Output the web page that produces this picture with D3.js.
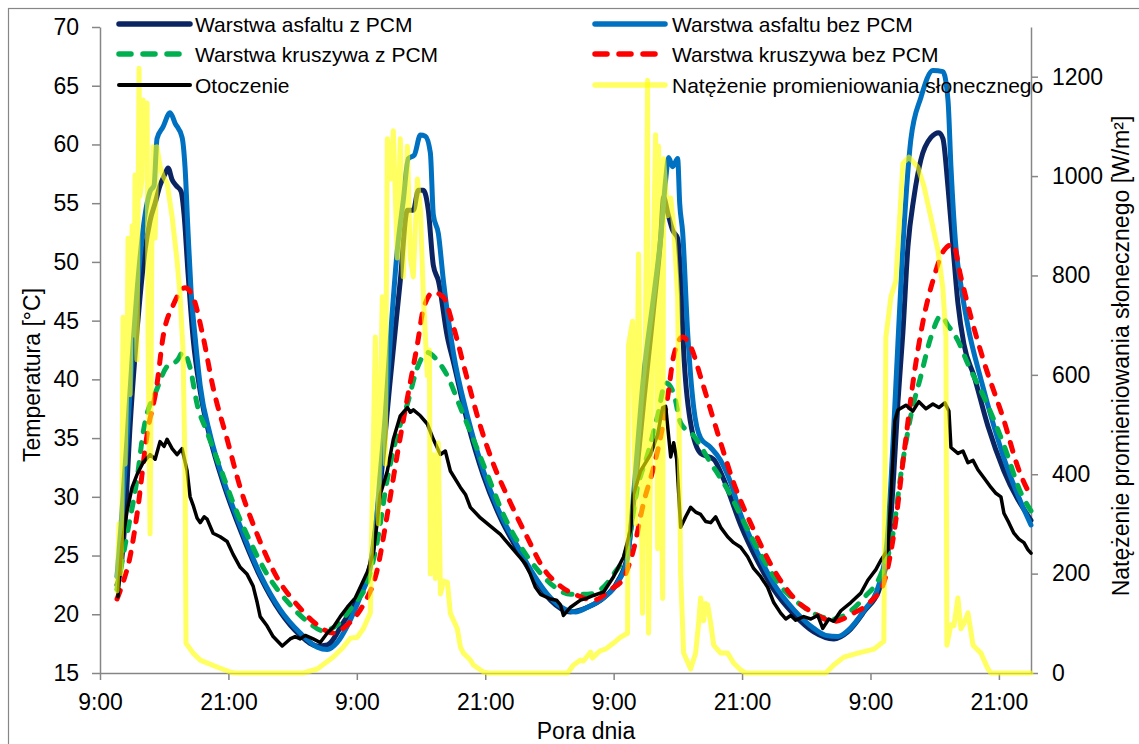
<!DOCTYPE html>
<html><head><meta charset="utf-8">
<script src="https://cdn.jsdelivr.net/npm/d3@7"></script>
<style>
html,body{margin:0;padding:0;background:#fff;}
text{font-family:"Liberation Sans",Arial,sans-serif;fill:#000;}
</style></head>
<body>
<svg id="chart" width="1139" height="744"></svg>
<script>
// ---- DATA (hour counted from midnight of day 1, value) ----
const seriesNames = ["Warstwa asfaltu z PCM","Warstwa asfaltu bez PCM","Warstwa kruszywa z PCM","Warstwa kruszywa bez PCM","Otoczenie","Natężenie promieniowania słonecznego"];
const xTickHours = [9,21,33,45,57,69,81,93];
const xTickLabels = ["9:00","21:00","9:00","21:00","9:00","21:00","9:00","21:00"];
const leftTicks = [15,20,25,30,35,40,45,50,55,60,65,70];
const rightTicks = [0,200,400,600,800,1000,1200];

const asfaltZ = [[10.59,22.5],[10.87,23.5],[11.34,28],[11.81,36],[12.27,42],[12.74,47],[13.21,51],[13.68,53.5],[14.15,55],[14.61,56.5],[15.08,57.5],[15.36,58],[15.74,57],[16.11,56.5],[16.58,56],[16.86,54],[17.23,49],[17.70,43.5],[18.36,39],[19.29,35],[20.51,31.2],[22.10,27.2],[23.97,23.2],[25.84,20.2],[27.71,18.2],[29.30,17.3],[30.24,17.4],[31.73,19.3],[33.32,21.8],[34.26,24.2],[35.19,31],[36.13,40],[37.06,48.4],[37.72,54.4],[38.28,54.4],[38.75,56.1],[39.22,56.1],[39.68,54.4],[40.15,49.7],[40.62,48.4],[41.46,43.6],[42.02,41.5],[43.33,36.4],[44.83,31.8],[46.42,28.2],[48.01,25.5],[49.51,23.2],[51.10,21.2],[52.97,20.2],[54.56,20.6],[56.06,21.4],[57.37,22.8],[58.30,25],[58.86,29.5],[59.80,38],[60.73,46],[61.39,52],[61.67,55.5],[62.05,54.2],[62.51,52.7],[62.98,52],[63.26,48.7],[63.54,42.5],[64.19,36.3],[65.13,33.7],[66.34,33.2],[67.28,31.5],[68.87,27.6],[70.46,24.5],[71.96,22.1],[73.83,20],[75.70,18.5],[77.57,17.9],[78.88,18.5],[80.38,20.2],[81.97,22.5],[82.72,26],[83.18,32],[83.56,38],[84.03,44],[84.50,51.3],[85.06,55.5],[85.71,58.7],[86.65,60.6],[87.39,61],[87.77,60.5],[88.24,56.4],[88.71,51.3],[89.17,46.5],[89.73,43],[90.67,40.3],[91.98,36],[93.47,32.2],[96.0,28]];

const asfaltBez = [[10.59,23.2],[10.96,27.5],[11.53,35],[12.09,43],[12.65,49.5],[13.21,54],[13.68,56],[14.05,56.5],[14.33,60.5],[14.89,61.5],[15.55,62.7],[16.02,61.8],[16.67,60.6],[16.95,58],[17.23,52.5],[17.51,47.5],[17.89,43.6],[18.36,39.5],[19.29,35.3],[20.51,31.5],[22.10,27.5],[23.97,23.4],[25.84,20.4],[27.71,18.4],[29.30,17.2],[30.24,17.0],[31.17,17.6],[32.11,19],[33.32,21.5],[34.26,24],[34.73,27],[35.19,32],[35.66,37],[36.13,43.4],[36.78,51],[37.35,55.3],[37.81,58.8],[38.37,59.1],[38.94,60.8],[39.40,60.7],[39.87,59.3],[40.15,54],[40.62,52.4],[41.09,48.4],[42.02,42.3],[43.33,36.9],[44.83,32.2],[46.42,28.5],[48.01,25.8],[49.51,23.4],[51.10,21.4],[52.50,20.4],[53.44,20.2],[54.56,20.6],[56.06,21.4],[57.37,22.7],[58.30,24.8],[58.86,30.2],[59.80,40.3],[60.73,47],[61.39,52],[61.86,57],[62.14,58.9],[62.51,58.1],[62.98,58.8],[63.17,55],[63.45,52.5],[63.92,43.9],[64.48,37.6],[65.13,35],[66.06,34.2],[67.00,33.1],[67.94,31.2],[68.87,28.5],[70.46,25.2],[71.96,22.6],[73.83,20.4],[75.70,18.8],[76.82,18.2],[77.95,18.1],[78.88,18.6],[80.38,20.3],[81.78,22.5],[82.53,26],[82.90,31],[83.18,36],[83.56,43],[84.03,51.3],[84.77,60.4],[85.71,64],[86.83,66.3],[87.77,66.2],[88.24,63.8],[88.52,58.1],[88.98,51.3],[89.45,48],[90.11,44.5],[91.32,40],[92.54,36],[93.85,32.3],[95.07,29.5],[96.0,27.6]];

const kruszywoZ = [[10.59,22.1],[11.53,26.8],[12.46,31.5],[13.02,35.4],[14.33,39.2],[15.27,41.1],[16.20,41.6],[16.76,42.3],[17.42,41],[18.07,37.9],[19.01,35.5],[20.23,32.5],[21.44,29.5],[23.03,26.2],[24.62,23.4],[26.49,21.1],[28.36,19.4],[29.86,18.6],[31.17,19.1],[32.67,20.8],[33.98,22.7],[34.91,26.2],[35.85,31.5],[36.78,35.3],[37.72,37.9],[38.66,41],[39.59,42.3],[40.53,41.6],[41.46,40.3],[42.68,37.6],[43.89,34.9],[45.20,31.9],[46.70,28.5],[48.29,25.8],[49.88,23.8],[51.38,22.4],[52.97,21.7],[54.56,21.7],[55.78,22.1],[56.99,23.4],[58.30,25.8],[59.24,30.8],[60.17,33.6],[61.11,36.9],[61.86,39.7],[62.61,38.8],[63.26,36.3],[64.48,35.2],[66.06,32.9],[67.65,30.6],[69.15,27.9],[70.74,25.1],[72.61,22.4],[74.48,20.8],[76.35,19.8],[77.57,19.6],[78.88,20.1],[80.38,21.4],[81.97,23.4],[83.09,26.8],[83.84,31.9],[84.77,36.9],[85.71,40.3],[86.65,43.6],[87.58,45.4],[88.24,44.6],[89.17,43.3],[90.11,41.3],[91.60,38.5],[93.47,34.4],[95.07,30.3],[96.0,28.8]];

const kruszywoBez = [[10.59,21.3],[11.15,22.7],[11.81,24.9],[12.46,28.5],[13.40,35.3],[14.33,39.6],[14.89,43.6],[15.83,46.3],[16.95,47.8],[17.70,47],[18.64,43.6],[19.57,39.3],[20.88,34.9],[22.10,30.8],[23.69,26.8],[25.56,23.1],[27.43,20.8],[29.30,19.1],[30.80,18.4],[32.11,19.1],[33.60,20.8],[34.91,23.8],[35.85,28.5],[36.78,33.6],[37.72,38.4],[38.66,43],[39.22,46],[40.15,47.4],[41.09,47],[42.02,44.5],[43.33,40],[44.55,36],[45.76,32.8],[47.35,29.5],[48.95,26.5],[50.44,23.9],[52.03,22.4],[53.62,21.6],[55.12,21.2],[56.71,22.1],[57.93,23.1],[58.86,25.5],[59.80,29.5],[60.73,32.5],[61.39,35.1],[62.05,38.5],[62.61,42],[63.45,43.6],[64.19,42.8],[65.13,40.2],[66.06,37.4],[67.00,34.6],[68.21,31.2],[70.08,27.2],[71.96,23.8],[73.83,21.4],[75.70,20.1],[77.57,19.4],[79.44,20.1],[81.03,21.1],[82.25,22.7],[83.18,26.8],[84.12,33.6],[85.06,40.3],[85.99,45.3],[86.93,48.7],[87.87,51],[88.71,51.5],[89.45,48.7],[90.39,45.3],[91.60,41.5],[93.47,36.5],[94.78,32.5],[96.0,30]];

const otoczenie = [[10.68,21.5],[11.06,26],[11.53,28.8],[12.00,30.8],[12.46,31.9],[13.02,32.9],[13.68,33.6],[14.15,33.2],[14.61,34.7],[14.99,34.3],[15.27,34.9],[15.74,34.1],[16.20,33.6],[16.67,34.1],[17.14,32.2],[17.42,30],[17.70,29.3],[18.07,28.2],[18.36,27.8],[18.74,28.3],[19.01,28.1],[19.57,26.9],[20.23,26.6],[20.88,26.2],[21.44,25.1],[22.10,24],[22.75,23.4],[23.31,22.4],[23.69,21],[23.97,19.8],[24.62,19],[25.18,18.1],[26.03,17.3],[26.77,17.9],[27.24,18.1],[27.71,17.9],[28.18,18.2],[28.92,17.9],[29.58,17.6],[30.24,18.4],[30.80,18.9],[31.45,19.8],[32.11,20.6],[32.86,21.4],[33.32,22.3],[33.98,23.6],[34.54,25.2],[34.91,28],[35.19,30.2],[35.85,32.2],[36.41,34.9],[37.06,36.9],[37.72,37.6],[38.00,37.2],[38.28,37.4],[38.94,36.9],[39.59,36.2],[40.15,34.9],[40.81,33.6],[41.27,33.9],[41.74,32.2],[42.68,30.8],[43.15,30.2],[43.61,29.1],[44.55,28.2],[45.48,27.5],[46.42,26.8],[46.89,26.3],[47.35,25.8],[48.29,24.8],[48.76,24.3],[49.22,23.4],[49.69,22.3],[50.16,21.7],[51.10,21.3],[51.66,21.2],[52.03,20.8],[52.31,19.9],[52.97,20.6],[53.90,21.2],[54.56,21.4],[55.12,21.6],[56.06,21.9],[56.99,23.2],[57.93,24.9],[58.58,27.2],[58.86,30.2],[59.51,32.2],[60.45,33.6],[61.11,35.3],[61.58,37.6],[61.86,37.7],[62.33,33.4],[62.61,34.6],[62.89,33.2],[63.26,27.4],[63.73,28.3],[64.19,29.1],[64.66,28.7],[65.13,28.5],[65.60,27.9],[66.07,27.8],[66.53,28.3],[67.00,27.4],[67.65,26.6],[68.21,26.1],[68.87,25.7],[69.52,24.9],[70.08,23.9],[70.74,23.2],[71.39,22.3],[71.96,21],[72.61,20.1],[73.08,19.6],[73.55,19.9],[74.01,19.5],[74.76,19.8],[75.42,19.6],[76.07,19.9],[76.54,18.8],[77.10,19.6],[77.57,19.4],[78.23,20.3],[79.16,21],[80.10,21.8],[80.75,22.9],[81.50,23.8],[81.97,24.6],[82.63,25.5],[82.91,30],[83.28,36.5],[83.56,37.4],[84.31,37.8],[84.96,37.3],[85.52,38.1],[86.18,37.5],[86.83,37.9],[87.39,37.6],[87.95,38.0],[88.33,37.3],[88.52,34.2],[89.17,33.7],[89.64,33.9],[90.11,32.9],[90.58,33.1],[91.04,32.3],[91.70,31.5],[92.26,30.8],[92.72,30.3],[93.19,30],[93.47,28.6],[93.93,27.8],[94.40,26.9],[94.87,26.4],[95.34,26.1],[95.71,25.5],[96.0,25.2]];

const promieniowanie = [[10.59,165],[10.78,300],[10.96,200],[11.06,358],[11.15,716],[11.34,420],[11.53,620],[11.62,875],[11.81,560],[12.00,900],[12.18,680],[12.27,1002],[12.46,630],[12.65,1217],[12.74,960],[12.93,994],[13.02,1153],[13.21,1050],[13.40,1147],[13.49,676],[13.68,280],[13.86,916],[13.96,1059],[14.15,875],[14.33,1059],[14.61,1020],[14.89,1000],[15.27,986],[15.74,918],[16.20,830],[16.48,760],[16.76,650],[16.95,400],[17.04,60],[17.70,40],[18.36,26],[19.94,12],[21.16,2],[21.63,0],[27.99,0],[29.30,8],[30.80,32],[31.73,52],[32.39,70],[33.04,72],[33.60,89],[34.26,121],[34.45,358],[34.73,676],[35.01,300],[35.38,757],[35.66,420],[35.85,1075],[36.13,994],[36.41,1091],[36.78,835],[37.06,1075],[37.34,797],[37.72,1060],[38.00,835],[38.28,797],[38.66,994],[38.94,932],[39.22,757],[39.59,598],[39.78,650],[39.87,199],[40.15,439],[40.34,190],[40.62,463],[40.81,159],[41.09,185],[41.46,183],[41.74,120],[42.39,89],[42.68,52],[42.96,40],[43.61,26],[43.89,16],[44.84,2],[45.30,0],[52.69,0],[53.25,16],[53.90,26],[54.18,24],[54.84,42],[55.03,30],[55.49,40],[55.77,45],[56.24,48],[56.71,56],[56.99,60],[57.64,72],[58.30,80],[58.39,660],[58.77,708],[59.05,300],[59.33,843],[59.70,120],[59.98,700],[60.17,1193],[60.26,80],[60.64,760],[60.92,1083],[61.11,250],[61.20,1060],[61.39,500],[61.58,150],[61.67,1035],[62.05,920],[62.33,956],[62.61,900],[62.98,757],[63.26,199],[63.54,40],[64.19,8],[64.66,40],[64.94,100],[65.13,151],[65.41,105],[65.59,140],[65.79,137],[66.07,100],[66.35,56],[67.00,40],[67.65,40],[68.21,20],[68.87,6],[69.34,0],[76.82,0],[77.57,16],[78.51,32],[79.82,40],[81.32,48],[82.25,64],[82.44,676],[82.91,757],[83.37,789],[83.84,956],[84.03,1026],[84.59,1038],[85.43,1018],[85.99,980],[86.65,916],[87.30,851],[87.77,773],[88.05,676],[88.14,56],[88.52,97],[88.80,95],[89.17,151],[89.45,89],[89.73,100],[90.11,121],[90.58,56],[91.32,40],[91.98,8],[92.26,0],[96.0,0]];

// ---- CHART ----
const svg = d3.select("#chart");
const W = 1139, H = 744;
const L = 100, R = 1031, T = 27, B = 673;
const axisColor = "#868686";

svg.append("rect").attr("x",0).attr("y",0).attr("width",W).attr("height",H).attr("fill","#fff");
svg.append("rect").attr("x",8.5).attr("y",8.5).attr("width",1300).attr("height",900)
  .attr("fill","none").attr("stroke",axisColor).attr("stroke-width",1.2);

const x = d3.scaleLinear().domain([9,96]).range([L,R]);
const yL = d3.scaleLinear().domain([15,70]).range([B,T]);
const yR = d3.scaleLinear().domain([0,1300]).range([B,T]);

function styleAxis(g){
  g.select(".domain").attr("stroke",axisColor).attr("stroke-width",1.5);
  g.selectAll(".tick line").attr("stroke",axisColor).attr("stroke-width",1.5);
  g.selectAll(".tick text").attr("font-size",23).attr("fill","#000")
    .style("font-family",'"Liberation Sans",Arial,sans-serif');
}

svg.append("g").attr("transform",`translate(${L},0)`)
  .call(d3.axisLeft(yL).tickValues(leftTicks).tickFormat(d3.format("d")).tickSize(8).tickSizeOuter(0).tickPadding(13))
  .call(styleAxis);
svg.append("g").attr("transform",`translate(${R},0)`)
  .call(d3.axisRight(yR).tickValues(rightTicks).tickFormat(d3.format("d")).tickSize(7).tickSizeOuter(0).tickPadding(14))
  .call(styleAxis);
svg.append("g").attr("transform",`translate(0,${B})`)
  .call(d3.axisBottom(x).tickValues(xTickHours).tickFormat((d,i)=>xTickLabels[i]).tickSize(7).tickSizeOuter(0).tickPadding(14))
  .call(styleAxis);

// axis titles
svg.append("text").attr("transform","translate(40,375) rotate(-90)").attr("text-anchor","middle")
  .attr("font-size",23).text("Temperatura [°C]");
svg.append("text").attr("transform","translate(1129,356) rotate(-90)").attr("text-anchor","middle")
  .attr("font-size",23).text("Natężenie promieniowania słonecznego [W/m²]");
svg.append("text").attr("x",586).attr("y",739).attr("text-anchor","middle")
  .attr("font-size",23).text("Pora dnia");

// series
const styles = [
  {data:asfaltZ, color:"#0B2563", w:5, dash:null, curve:d3.curveMonotoneX, axis:yL, op:1},
  {data:asfaltBez, color:"#0070C0", w:5, dash:null, curve:d3.curveMonotoneX, axis:yL, op:1},
  {data:kruszywoZ, color:"#00B050", w:5, dash:"9,11", curve:d3.curveMonotoneX, axis:yL, op:1},
  {data:kruszywoBez, color:"#FF0000", w:5, dash:"9,11", curve:d3.curveMonotoneX, axis:yL, op:1},
  {data:otoczenie, color:"#000000", w:3.5, dash:null, curve:d3.curveLinear, axis:yL, op:1},
  {data:promieniowanie, color:"#FFFF00", w:5, dash:null, curve:d3.curveLinear, axis:yR, op:0.62}
];

const plot = svg.append("g");
styles.forEach(s=>{
  const line = d3.line().x(d=>x(d[0])).y(d=>s.axis(d[1])).curve(s.curve);
  plot.append("path").datum(s.data).attr("d",line)
    .attr("fill","none").attr("stroke",s.color).attr("stroke-width",s.w)
    .attr("stroke-linejoin","round").attr("stroke-linecap","round")
    .attr("stroke-dasharray",s.dash).attr("stroke-opacity",s.op);
});

// legend
const legCols = [{lx1:119,lx2:190,tx:195},{lx1:595,lx2:665,tx:672}];
const legRows = [24,54,85];
seriesNames.forEach((name,i)=>{
  const c = legCols[i%2], r = legRows[Math.floor(i/2)], s = styles[i];
  svg.append("line").attr("x1",c.lx1).attr("x2",c.lx2).attr("y1",r).attr("y2",r)
    .attr("stroke",s.color).attr("stroke-width",s.w+0.5).attr("stroke-linecap","round")
    .attr("stroke-dasharray",s.dash?"12,12":null).attr("stroke-opacity",s.op);
  svg.append("text").attr("x",c.tx).attr("y",r+7.5).attr("font-size",21).text(name);
});
</script>
</body></html>
